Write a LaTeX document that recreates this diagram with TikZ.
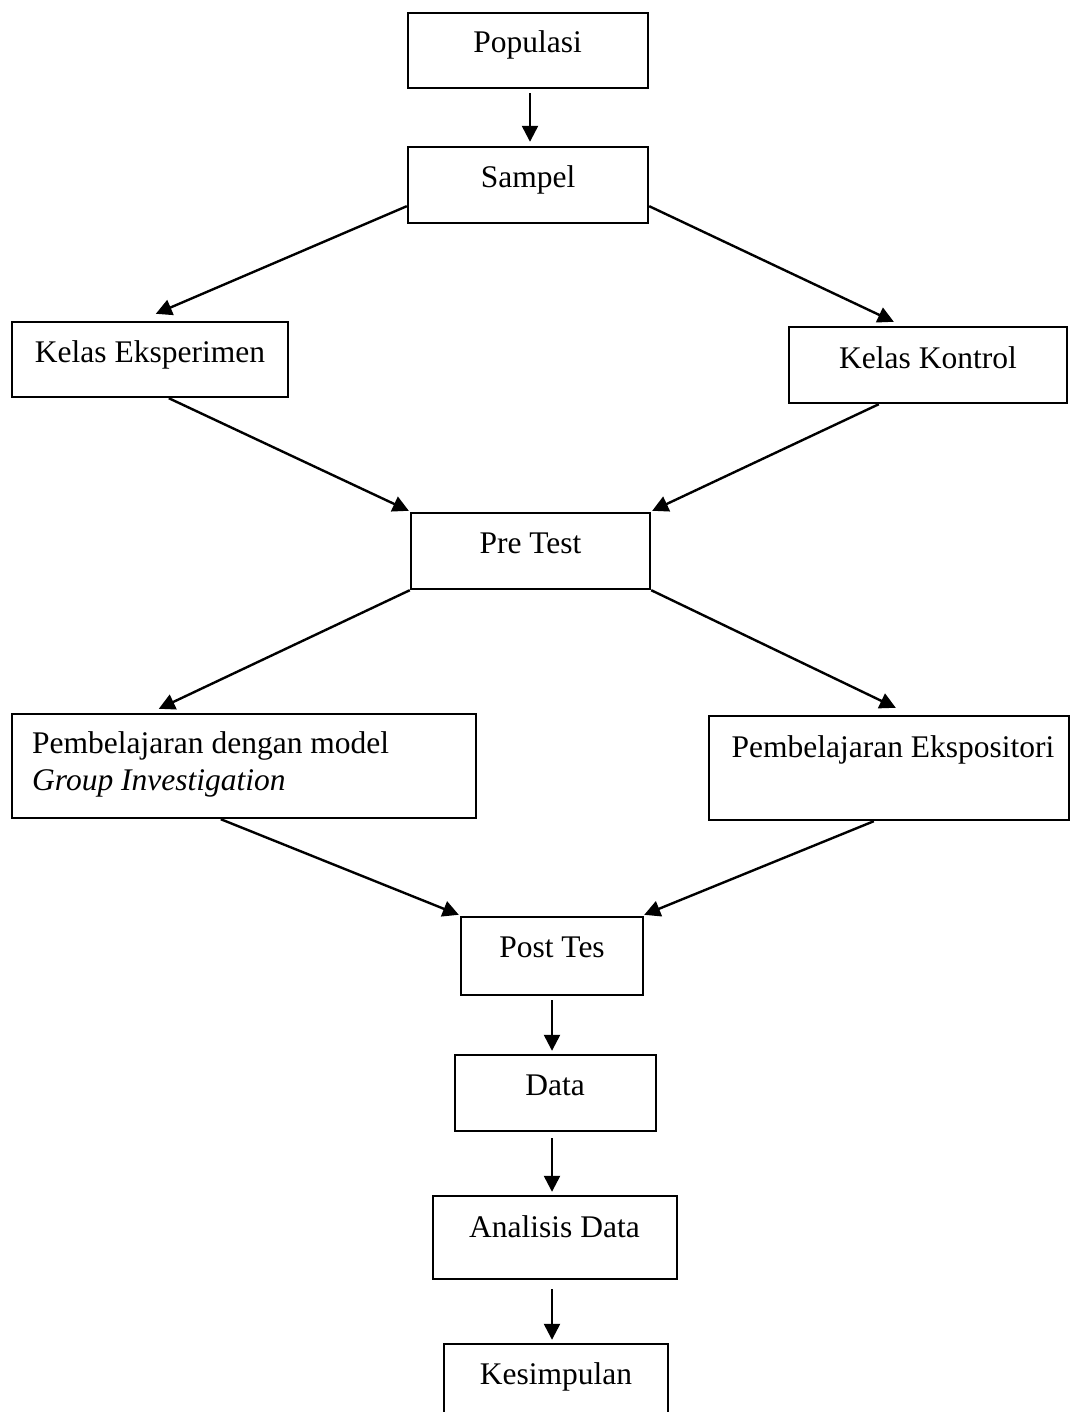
\documentclass[tikz,border=0pt]{standalone}
\usepackage{fontspec}
\setmainfont{Liberation Serif}
\usetikzlibrary{arrows.meta}
\begin{document}
\begin{tikzpicture}[x=1pt,y=-1pt,
  box/.style={draw,line width=2.4pt,rectangle,inner sep=0pt},
  lbl/.style={inner sep=0pt,anchor=base,font=\fontsize{31.5}{37}\selectfont},
  arr/.style={line width=2.4pt,-{Triangle[length=16pt,width=16pt]}}]
\clip (0,0) rectangle (1070,1412);
\fill[white] (0,0) rectangle (1070,1412);
% boxes
\node[box,minimum width=240pt,minimum height=75pt] (pop) at (528,50.5) {};
\node[box,minimum width=240pt,minimum height=76pt] (sam) at (528,185) {};
\node[box,minimum width=276pt,minimum height=75pt] (ke) at (150,359.5) {};
\node[box,minimum width=278pt,minimum height=76pt] (kk) at (928,365) {};
\node[box,minimum width=239pt,minimum height=76pt] (pre) at (530.5,551) {};
\node[box,minimum width=464pt,minimum height=104pt] (gi) at (244,766) {};
\node[box,minimum width=360pt,minimum height=104pt] (ex) at (889,768) {};
\node[box,minimum width=182pt,minimum height=78pt] (post) at (552,956) {};
\node[box,minimum width=201pt,minimum height=76pt] (data) at (555.5,1093) {};
\node[box,minimum width=244pt,minimum height=83pt] (ana) at (555,1237.5) {};
\node[box,minimum width=224pt,minimum height=86pt] (kes) at (556,1387) {};
% texts
\node[lbl] (popt) at (527.5,53) {Populasi};
\node[lbl] (samt) at (528,188) {Sampel};
\node[lbl] (ket) at (150,362) {Kelas Eksperimen};
\node[lbl] (kkt) at (928,368) {Kelas Kontrol};
\node[lbl] (pret) at (530.5,553) {Pre Test};
\node[lbl,anchor=base west] (git1) at (32,753) {Pembelajaran dengan model};
\node[lbl,anchor=base west] (git2) at (32,790) {\itshape Group Investigation};
\node[lbl] (ext) at (893,757) {Pembelajaran Ekspositori};
\node[lbl] (postt) at (552,957) {Post Tes};
\node[lbl] (datat) at (555,1095) {Data};
\node[lbl] (anat) at (554.5,1237) {Analisis Data};
\node[lbl] (kest) at (556,1384) {Kesimpulan};
% arrows
\draw[arr] ([xshift=2pt,yshift=-4pt]pop.south) -- ([xshift=2pt,yshift=4pt]sam.north);
\draw[arr] ([yshift=18pt]sam.south west) -- ([xshift=145pt,yshift=7pt]ke.north west);
\draw[arr] ([yshift=18pt]sam.south east) -- ([xshift=106pt,yshift=4pt]kk.north west);
\draw[arr] ([xshift=158pt]ke.south west) -- ([xshift=-1pt,yshift=1pt]pre.north west);
\draw[arr] ([xshift=91pt]kk.south west) -- ([xshift=1pt,yshift=1pt]pre.north east);
\draw[arr] (pre.south west) -- ([xshift=148pt,yshift=4pt]gi.north west);
\draw[arr] (pre.south east) -- ([xshift=188pt,yshift=7pt]ex.north west);
\draw[arr] ([xshift=210pt]gi.south west) -- ([xshift=-1pt,yshift=1pt]post.north west);
\draw[arr] ([xshift=166pt]ex.south west) -- ([yshift=1pt]post.north east);
\draw[arr] ([yshift=-4pt]post.south) -- ([xshift=-3.5pt,yshift=3pt]data.north);
\draw[arr] ([xshift=-3.5pt,yshift=-6pt]data.south) -- ([xshift=-3pt,yshift=3pt]ana.north);
\draw[arr] ([xshift=-3pt,yshift=-9pt]ana.south) -- ([xshift=-4pt,yshift=3pt]kes.north);
\end{tikzpicture}
\end{document}
